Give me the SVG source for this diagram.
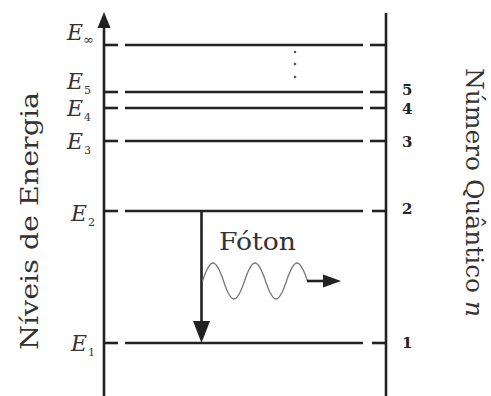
<svg xmlns="http://www.w3.org/2000/svg" width="491" height="396" viewBox="0 0 491 396">
<style>
.ln{stroke:#222;stroke-width:2.6;fill:none}
.ax{stroke:#222;stroke-width:2.6;fill:none}
.el{font-family:"DejaVu Serif","Liberation Serif",serif;font-style:italic;font-size:22px;fill:#333}
.sub{font-family:"DejaVu Serif","Liberation Serif",serif;font-style:normal;font-size:11px;fill:#333}
.num{font-family:"DejaVu Serif","Liberation Serif",serif;font-weight:bold;font-size:15px;fill:#222}
.ttl{font-family:"DejaVu Serif","Liberation Serif",serif;font-size:25px;fill:#333}
.hd{fill:#222}
</style>
<rect width="491" height="396" fill="#fff"/>
<g id="axes">
<line class="ax" x1="104" y1="24" x2="104" y2="396"/>
<polygon class="hd" points="97.5,28 104,12 110.5,28"/>
<line class="ax" x1="386" y1="13" x2="386" y2="396"/>
</g>
<g id="level-inf">
<line class="ln" x1="104" y1="45" x2="118" y2="45"/><line class="ln" x1="125" y1="45" x2="363" y2="45"/><line class="ln" x1="370" y1="45" x2="386" y2="45"/>
<text class="el" x="67" y="40">E<tspan class="sub" x="83" y="44" style="font-size:13px">∞</tspan></text>
<circle cx="295" cy="52" r="1.3" fill="#555"/><circle cx="295" cy="64" r="1.3" fill="#555"/><circle cx="295" cy="77" r="1.3" fill="#555"/>
</g>
<g id="level-5">
<line class="ln" x1="104" y1="92" x2="118" y2="92"/><line class="ln" x1="125" y1="92" x2="363" y2="92"/><line class="ln" x1="370" y1="92" x2="386" y2="92"/>
<text class="el" x="67" y="89">E<tspan class="sub" x="84" y="94">5</tspan></text>
<text class="num" x="402" y="95">5</text>
</g>
<g id="level-4">
<line class="ln" x1="104" y1="108" x2="118" y2="108"/><line class="ln" x1="125" y1="108" x2="363" y2="108"/><line class="ln" x1="370" y1="108" x2="386" y2="108"/>
<text class="el" x="67" y="116">E<tspan class="sub" x="84" y="121">4</tspan></text>
<text class="num" x="402" y="114">4</text>
</g>
<g id="level-3">
<line class="ln" x1="104" y1="141" x2="118" y2="141"/><line class="ln" x1="125" y1="141" x2="363" y2="141"/><line class="ln" x1="370" y1="141" x2="386" y2="141"/>
<text class="el" x="67" y="149">E<tspan class="sub" x="84" y="154">3</tspan></text>
<text class="num" x="402" y="147">3</text>
</g>
<g id="level-2">
<line class="ln" x1="104" y1="211" x2="118" y2="211"/><line class="ln" x1="125" y1="211" x2="363" y2="211"/><line class="ln" x1="372" y1="211" x2="386" y2="211"/>
<text class="el" x="71" y="221">E<tspan class="sub" x="88" y="226">2</tspan></text>
<text class="num" x="402" y="214">2</text>
</g>
<g id="level-1">
<line class="ln" x1="104" y1="343" x2="118" y2="343"/><line class="ln" x1="125" y1="343" x2="363" y2="343"/><line class="ln" x1="372" y1="343" x2="386" y2="343"/>
<text class="el" x="71" y="351">E<tspan class="sub" x="88" y="356">1</tspan></text>
<text class="num" x="402" y="348">1</text>
</g>
<g id="connectors">
<line class="ln" x1="201.5" y1="211" x2="201.5" y2="325"/>
<polygon class="hd" points="193,321 210,321 201.5,343"/>
<path d="M202.5,281 C210.5,257 215.5,257 223.5,281 C231.5,305 236.5,305 244.5,281 C252.5,257 257.5,257 265.5,281 C273.5,305 278.5,305 286.5,281 C294.5,257 299.5,257 307.5,281" fill="none" stroke="#777" stroke-width="1.3"/>
<line x1="307" y1="281" x2="326" y2="281" stroke="#222" stroke-width="2.6"/>
<polygon class="hd" points="323,274.5 341,281 323,287.5"/>
</g>
<g id="labels">
<text class="ttl" x="219" y="250" textLength="77" lengthAdjust="spacingAndGlyphs">Fóton</text>
<text class="ttl" transform="translate(38,350) rotate(-90)" x="0" y="0" textLength="258" lengthAdjust="spacingAndGlyphs">Níveis de Energia</text>
<text class="ttl" transform="translate(466,68) rotate(90)" x="0" y="0" textLength="249" lengthAdjust="spacingAndGlyphs">Número Quântico <tspan font-style="italic">n</tspan></text>
</g>
</svg>
